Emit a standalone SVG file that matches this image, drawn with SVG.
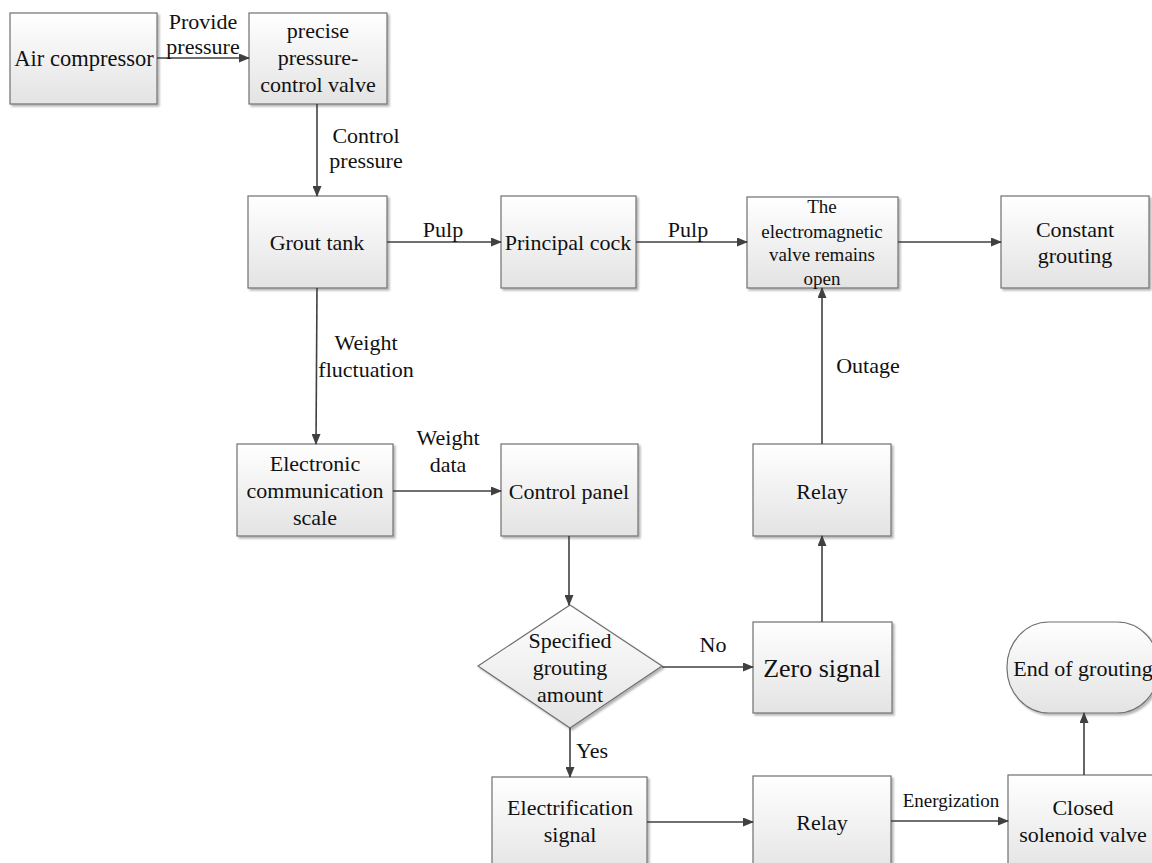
<svg xmlns="http://www.w3.org/2000/svg" width="1152" height="863" viewBox="0 0 1152 863">
<defs>
<linearGradient id="g" x1="0" y1="0" x2="0" y2="1">
<stop offset="0" stop-color="#ffffff"/>
<stop offset="1" stop-color="#e3e3e3"/>
</linearGradient>
<filter id="sh" x="-10%" y="-10%" width="130%" height="130%">
<feGaussianBlur in="SourceAlpha" stdDeviation="1"/>
<feOffset dx="2" dy="2" result="b"/>
<feComponentTransfer><feFuncA type="linear" slope="0.3"/></feComponentTransfer>
<feMerge><feMergeNode/><feMergeNode in="SourceGraphic"/></feMerge>
</filter>
<marker id="ar" markerWidth="11" markerHeight="9" refX="10" refY="4.5" orient="auto" markerUnits="userSpaceOnUse">
<path d="M0,0 L11,4.5 L0,9 Z" fill="#404040"/>
</marker>
</defs>
<style>
.box{fill:url(#g);stroke:#707070;stroke-width:1.2;filter:url(#sh)}
.c{stroke:#404040;stroke-width:1.6;fill:none;marker-end:url(#ar)}
</style>
<rect width="1152" height="863" fill="#fff"/>
<g font-family="Liberation Serif, Times New Roman, serif" font-size="22" fill="#111" text-anchor="middle">
<g id="air-compressor">
<rect class="box" x="10" y="13" width="147" height="91"/>
<text x="84" y="66" font-size="22.5">Air compressor</text>
</g>
<g id="pressure-valve">
<rect class="box" x="249" y="13" width="138" height="91"/>
<text x="318" y="38">precise</text>
<text x="318" y="65">pressure-</text>
<text x="318" y="92">control valve</text>
</g>
<g id="grout-tank">
<rect class="box" x="248" y="196" width="139" height="92"/>
<text x="317" y="250">Grout tank</text>
</g>
<g id="principal-cock">
<rect class="box" x="501" y="196" width="135" height="92"/>
<text x="568" y="250">Principal cock</text>
</g>
<g id="em-valve" font-size="19">
<rect class="box" x="747" y="197" width="151" height="91"/>
<text x="822" y="213">The</text>
<text x="822" y="238">electromagnetic</text>
<text x="822" y="261">valve remains</text>
<text x="822" y="285">open</text>
</g>
<g id="constant-grouting">
<rect class="box" x="1001" y="196" width="148" height="92"/>
<text x="1075" y="237">Constant</text>
<text x="1075" y="263">grouting</text>
</g>
<g id="scale">
<rect class="box" x="237" y="444" width="156" height="92"/>
<text x="315" y="471">Electronic</text>
<text x="315" y="498">communication</text>
<text x="315" y="525">scale</text>
</g>
<g id="control-panel">
<rect class="box" x="501" y="444" width="137" height="92"/>
<text x="569" y="499">Control panel</text>
</g>
<g id="decision">
<polygon class="box" points="570,605 662,666 570,728 478,666"/>
<text x="570" y="648">Specified</text>
<text x="570" y="675">grouting</text>
<text x="570" y="702">amount</text>
</g>
<g id="zero-signal">
<rect class="box" x="753" y="622" width="139" height="91"/>
<text x="822" y="677" font-size="26">Zero signal</text>
</g>
<g id="relay-upper">
<rect class="box" x="753" y="444" width="138" height="92"/>
<text x="822" y="499">Relay</text>
</g>
<g id="electrification-signal">
<rect class="box" x="492" y="777" width="155" height="100"/>
<text x="570" y="815">Electrification</text>
<text x="570" y="842">signal</text>
</g>
<g id="relay-lower">
<rect class="box" x="753" y="776" width="138" height="100"/>
<text x="822" y="830">Relay</text>
</g>
<g id="closed-solenoid-valve">
<rect class="box" x="1008" y="775" width="152" height="100"/>
<text x="1083" y="815">Closed</text>
<text x="1083" y="842">solenoid valve</text>
</g>
<g id="end-of-grouting">
<rect class="box" x="1007" y="622" width="152" height="91" rx="42" ry="45"/>
<text x="1083" y="676">End of grouting</text>
</g>

<g id="connectors">
<line class="c" x1="157" y1="58" x2="249" y2="58"/>
<line class="c" x1="317" y1="104" x2="317" y2="196"/>
<line class="c" x1="387" y1="242" x2="501" y2="242"/>
<line class="c" x1="636" y1="242" x2="747" y2="242"/>
<line class="c" x1="898" y1="242" x2="1001" y2="242"/>
<line class="c" x1="317" y1="288" x2="316" y2="444"/>
<line class="c" x1="393" y1="491" x2="501" y2="491"/>
<line class="c" x1="569" y1="536" x2="569" y2="605"/>
<line class="c" x1="662" y1="667" x2="753" y2="667"/>
<line class="c" x1="822" y1="622" x2="822" y2="536"/>
<line class="c" x1="822" y1="444" x2="822" y2="288"/>
<line class="c" x1="570" y1="728" x2="570" y2="777"/>
<line class="c" x1="647" y1="822" x2="753" y2="822"/>
<line class="c" x1="891" y1="821" x2="1008" y2="821"/>
<line class="c" x1="1084" y1="775" x2="1084" y2="713"/>
</g>
<g id="labels">
<text x="203" y="29">Provide</text>
<text x="203" y="54">pressure</text>
<text x="366" y="143">Control</text>
<text x="366" y="168">pressure</text>
<text x="443" y="237">Pulp</text>
<text x="688" y="237">Pulp</text>
<text x="366" y="350">Weight</text>
<text x="366" y="377">fluctuation</text>
<text x="448" y="445">Weight</text>
<text x="448" y="472">data</text>
<text x="713" y="652">No</text>
<text x="868" y="373">Outage</text>
<text x="592" y="758">Yes</text>
<text x="951" y="807" font-size="19">Energization</text>
</g>
</g>
</svg>
